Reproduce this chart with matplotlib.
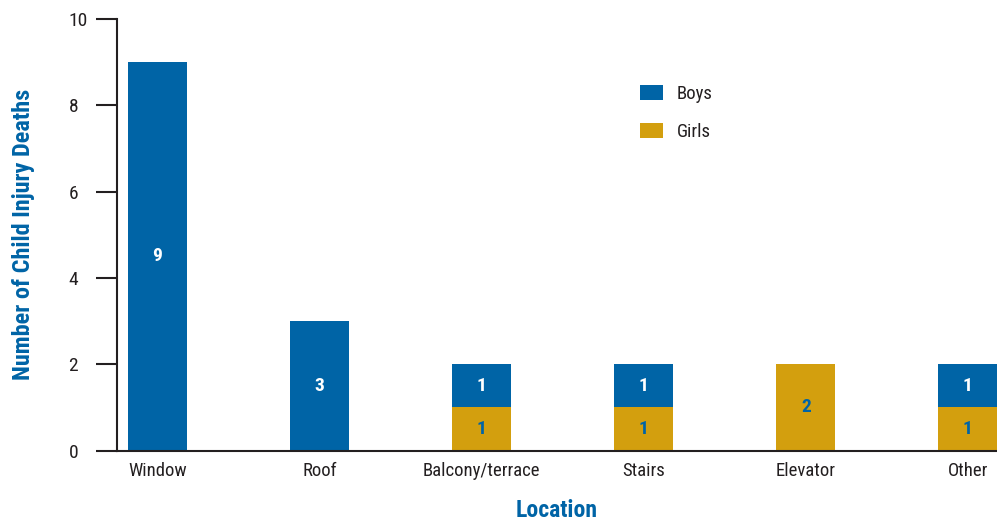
import matplotlib
matplotlib.use("Agg")
import matplotlib.pyplot as plt
from matplotlib import font_manager as fm
import numpy as np

names = {f.name for f in fm.fontManager.ttflist}
fam = 'Liberation Sans Narrow' if 'Liberation Sans Narrow' in names else 'Roboto Condensed' if 'Roboto Condensed' in names else 'Liberation Sans'
plt.rcParams['font.family'] = [fam, 'DejaVu Sans']

categories = ["Window", "Roof", "Balcony/terrace", "Stairs", "Elevator", "Other"]
boys = [9, 3, 1, 1, 0, 1]
girls = [0, 0, 1, 1, 2, 1]
yticks = [0, 2, 4, 6, 8, 10]

BLUE = "#0064A6"
GOLD = "#D39F0E"
DARK = "#231F20"

fig = plt.figure(figsize=(9.97, 5.21), dpi=100)
ax = fig.add_axes([117/997, (521-450.5)/521, 1-117/997, (450.5-19)/521])

x = np.arange(len(categories))
w = 0.364
bg = ax.bar(x, girls, w, color=GOLD, label="Girls", zorder=2)
bb = ax.bar(x, boys, w, bottom=girls, color=BLUE, label="Boys", zorder=2)

for i in range(len(categories)):
    if girls[i] > 0:
        ax.text(x[i], girls[i]/2, str(girls[i]), ha='center', va='center',
                color=BLUE, fontsize=14, fontweight='bold')
    if boys[i] > 0:
        ax.text(x[i], girls[i] + boys[i]/2, str(boys[i]), ha='center', va='center',
                color='white', fontsize=14, fontweight='bold')

ax.set_xlim(-0.25, 5.18)
ax.set_ylim(0, 10)
ax.set_yticks(yticks)
ax.set_yticklabels([str(v) for v in yticks])
for lab in ax.get_yticklabels():
    lab.set_horizontalalignment('left')
ax.tick_params(axis='y', length=15, width=1.5, color=DARK, labelsize=14, labelcolor=DARK, pad=20)
ax.set_xticks(x)
ax.set_xticklabels(categories)
ax.tick_params(axis='x', length=0, labelsize=13.5, labelcolor=DARK, pad=8)

for s in ['top', 'right']:
    ax.spines[s].set_visible(False)
for s in ['left', 'bottom']:
    ax.spines[s].set_linewidth(1.5)
    ax.spines[s].set_color(DARK)
ax.spines['left'].set_zorder(3)

ax.set_ylabel("Number of Child Injury Deaths", color=BLUE, fontsize=17.5, fontweight='bold')
ax.yaxis.set_label_coords(-117/880 + 35/880, 0.5)
ax.set_xlabel("Location", color=BLUE, fontsize=17, fontweight='bold', labelpad=14)

handles = [bb, bg]
leg = ax.legend(handles, ["Boys", "Girls"], loc='upper left',
                bbox_to_anchor=(640/997, 1-85/521), bbox_transform=fig.transFigure,
                frameon=False, fontsize=13.5, handlelength=1.22, handleheight=0.86,
                handletextpad=0.72, labelspacing=1.05, borderpad=0, borderaxespad=0)
for t in leg.get_texts():
    t.set_color(DARK)

fig.savefig("out.png", dpi=100)
